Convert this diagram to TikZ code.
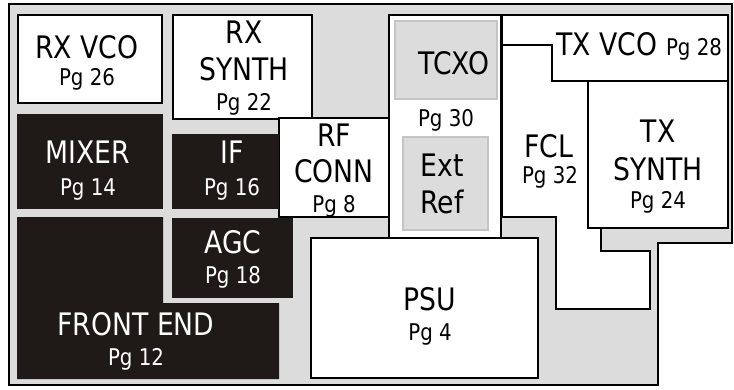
\documentclass[tikz,border=0pt]{standalone}
\usepackage{fontspec}
\setmainfont{DejaVu Sans}[FakeStretch=0.86]
\definecolor{bg}{HTML}{DCDCDC}
\definecolor{dk}{HTML}{1F1A17}
\definecolor{inb}{HTML}{C4C4C4}
\begin{document}
\begin{tikzpicture}[x=1pt,y=-1pt,
  box/.style={draw=black,line width=2pt,fill=white},
  dark/.style={fill=dk},
  innerbox/.style={draw=inb,line width=2pt,fill=bg},
  big/.style={font=\fontsize{31}{36}\selectfont,anchor=base,inner sep=0pt},
  small/.style={font=\fontsize{23}{26}\selectfont,anchor=base,inner sep=0pt},
  wt/.style={text=white}]
\useasboundingbox (0,0) rectangle (734,389);
\fill[white] (0,0) rectangle (734,389);
% outer frame
\draw[fill=bg,line width=2pt] (9,4) -- (732,4) -- (732,243) -- (658,243) -- (658,385) -- (9,385) -- cycle;
% white boxes
\draw[box] (18,15) rectangle (162,103);
\draw[box] (173,15) rectangle (312,119);
\draw[box] (279,118) rectangle (389,217);
\draw[box] (389,15) rectangle (501,240);
\draw[innerbox] (395,21) rectangle (497,99);
\draw[innerbox] (403,137) rectangle (488,230);
\draw[box] (311,238) rectangle (538,378);
% TX VCO
\draw[box] (502,15) -- (728,15) -- (728,81) -- (552,81) -- (552,45) -- (502,45) -- cycle;
% FCL
\draw[box] (502,45) -- (552,45) -- (552,81) -- (588,81) -- (588,228) -- (601,228) -- (601,251) -- (650,251) -- (650,309) -- (556,309) -- (556,217) -- (502,217) -- cycle;
% TX SYNTH
\draw[box] (588,81) rectangle (728,228);
% dark boxes
\fill[dark] (17,114) rectangle (163,209);
\fill[dark] (172,134) rectangle (279,209);
\fill[dark] (172,218) rectangle (293,298);
\fill[dark] (17,217) -- (163,217) -- (163,303) -- (279,303) -- (279,379) -- (17,379) -- cycle;
% texts
\node[big] (rxvcoA) at (87,58) {RX VCO};
\node[small] (rxvcoB) at (87,85) {Pg 26};
\node[big] (rxsyA) at (244,43) {RX};
\node[big] (rxsyB) at (244,80) {SYNTH};
\node[small] (rxsyC) at (244,110) {Pg 22};
\node[big] (rfA) at (334,146) {RF};
\node[big] (rfB) at (334,182) {CONN};
\node[small] (rfC) at (334,212) {Pg 8};
\node[big] (tcxo) at (454,74) {TCXO};
\node[small] (pg30) at (446,126) {Pg 30};
\node[big] (extA) at (442,176) {Ext};
\node[big] (extB) at (442,213) {Ref};
\node[big] (txvcoA) at (607,55) {TX VCO};
\node[small] (txvcoB) at (694,55) {Pg 28};
\node[big] (fclA) at (549,157) {FCL};
\node[small] (fclB) at (550,183) {Pg 32};
\node[big] (txsyA) at (658,142) {TX};
\node[big] (txsyB) at (658,180) {SYNTH};
\node[small] (txsyC) at (658,208) {Pg 24};
\node[big] (psuA) at (430,310) {PSU};
\node[small] (psuB) at (430,340) {Pg 4};
\node[big,wt] (mixA) at (88,163) {MIXER};
\node[small,wt] (mixB) at (88,195) {Pg 14};
\node[big,wt] (ifA) at (232,163) {IF};
\node[small,wt] (ifB) at (232,195) {Pg 16};
\node[big,wt] (agcA) at (233,253) {AGC};
\node[small,wt] (agcB) at (233,283) {Pg 18};
\node[big,wt] (feA) at (136,335) {FRONT END};
\node[small,wt] (feB) at (136,365) {Pg 12};
\end{tikzpicture}
\end{document}
